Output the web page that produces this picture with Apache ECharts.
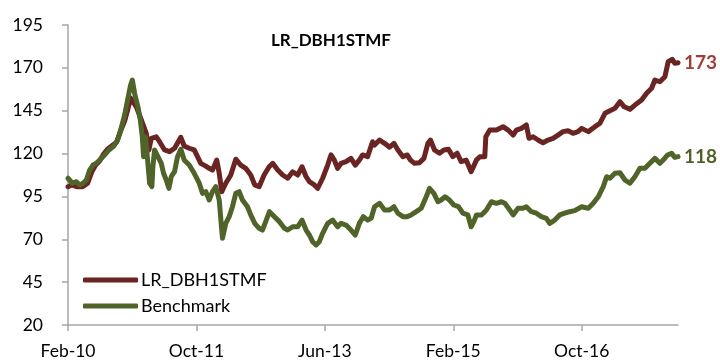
<!DOCTYPE html>
<html>
<head>
<meta charset="utf-8">
<script src="https://cdn.jsdelivr.net/npm/echarts@6/dist/echarts.min.js"></script>
<style>
  html, body { margin: 0; padding: 0; background: #fff; }
  #chart { width: 720px; height: 360px; }
</style>
</head>
<body>
<div id="chart"></div>
<script>
// Months elapsed since Feb 2010 (x) and index level (y) for each series
const fundMonths = [0,0.58,1.35,2.29,3.06,3.69,4.31,4.93,5.55,6.17,
  6.8,7.57,8.2,8.82,9.28,9.75,10.06,10.64,11.42,12.19,
  12.6,12.97,13.75,14.26,15.04,15.82,16.6,17.06,17.57,18.1,
  18.88,19.66,20.17,20.68,21.46,21.99,22.5,23.17,23.55,23.95,
  24.57,25.35,26.13,26.9,27.68,28.46,29.08,29.77,30.54,31.32,
  31.88,32.66,33.44,34.21,34.99,35.77,36.45,37.08,37.59,38.37,
  38.88,39.66,40.44,40.96,41.48,41.99,42.52,43.3,44.07,44.74,
  45.37,45.88,46.66,47.43,47.74,48.52,49.3,50.08,50.76,51.38,
  52.16,52.83,53.34,53.97,54.74,55.43,56.05,56.45,57.08,57.85,
  58.54,59.25,59.94,60.61,61.23,62.01,62.78,63.61,64.14,64.91,
  65.07,65.69,66.72,67.76,68.54,69.32,69.83,70.61,71.38,71.8,
  72.43,73.2,73.98,74.76,75.54,76.31,77.09,77.87,78.65,79.42,
  80,81.03,82.07,82.85,83.63,84.4,85.18,85.96,86.63,87.51,
  88.29,89.33,90.11,90.89,91.4,92.18,92.96,93.47,94.09,94.51,
  95];
const fundValues = [100.7,101.7,100.7,100.7,102.7,109.2,113.3,115.7,119.7,122.7,
  124.4,126.7,133.2,139,145.4,152.4,153,147.3,139.6,131.8,
  122.1,128.9,129.8,126.9,122.1,121.1,123.1,126.2,129.5,124.4,
  123.1,122.1,118.2,114.3,112.7,111.4,110.4,116.2,108.5,97.8,
  102.7,107.5,116.7,113.3,111.4,107.5,101.7,100.7,107.5,112.3,
  114.3,110.4,107.5,105.6,109.4,107.5,112.3,106.5,103.6,101.7,
  99.7,105.6,113.3,119.2,116.2,111.4,114.3,115.3,117.2,113.3,
  116.2,119.2,118.2,126.9,125,127.9,126,123.7,126,122.1,
  118.2,119.2,116.2,114.3,114.7,117.2,126,127.9,122.1,120.2,
  122.1,122.5,118.2,120.2,115.3,116.2,109.4,116.2,118.2,118.2,
  129.8,133.7,133.7,135.7,133.7,130.8,133.7,134.7,136.7,128.9,
  129.8,127.9,126.3,127.9,128.9,130.8,132.8,133.3,131.8,132.8,
  134.7,132.8,135.7,137.7,143.5,145,146.4,150.3,147.3,145.8,
  148.3,151.2,155.2,158.1,162.9,161.9,164.8,173.6,175,172.7,
  173];

const benchMonths = [0,0.26,0.68,1.31,1.82,2.33,2.86,3.37,3.89,4.42,
  4.93,5.71,6.38,7.15,7.73,8.2,8.82,9.28,9.75,10.02,
  10.37,10.89,11.26,11.57,11.77,12.08,12.44,12.71,13.06,13.22,
  13.48,14,14.53,14.88,15.3,15.71,16.08,16.59,17.06,17.57,
  18.1,18.88,19.66,20.44,20.95,21.46,21.99,22.5,23.02,23.55,
  23.9,24.06,24.57,25.1,25.61,26.13,26.66,27.17,27.95,28.46,
  29.08,29.77,30.28,30.79,31.37,32.15,32.92,33.7,34.21,34.99,
  35.77,36.45,37.08,37.59,38.1,38.63,39.14,39.66,40.44,41.21,
  41.99,42.52,43.3,44.07,44.74,45.37,45.99,46.66,47.23,47.74,
  48.52,49.3,50.08,50.76,51.38,52.16,52.83,53.45,54.23,55.01,
  55.79,56.3,56.98,57.61,58.12,58.74,59.41,60.09,60.81,61.49,
  62.27,62.78,63.3,63.61,64.39,65.16,65.94,66.72,67.5,68.03,
  68.8,69.32,70.09,70.87,71.38,72.16,72.94,73.72,74.49,75.02,
  75.8,76.58,77.36,78.13,78.91,80,81.03,81.8,82.58,83.36,
  83.89,84.4,85.18,85.96,86.74,87.51,88.29,89.07,89.85,90.62,
  91.4,92.18,92.69,93.38,94,94.51,95];
const benchValues = [105.6,106.5,102.7,103.6,101.7,102.7,104.6,110.4,113.3,114.3,
  116.2,119.2,122.1,124.4,127.9,133.7,142.5,151.2,160,162.9,
  155.2,147.3,139.6,129.8,118.2,129.8,114.3,102.7,100.7,112.3,
  122.1,118.2,114.3,108.5,104.6,99.7,106.5,109.4,118.2,122.5,
  116.2,113.3,108.5,102.7,96.8,97.8,92.9,97.8,100.7,92.9,
  77.3,70.6,79.3,83.2,89,96.8,97.8,92.9,89,84.2,
  79.3,76.4,75.4,80.3,86.1,83.2,80.3,76.4,75.4,77.3,
  77.3,81.2,75.4,72.5,68.6,66.7,68.6,73.5,79.3,81.2,
  77.3,79.3,78.3,75.4,72.5,79.3,83.2,81.2,82.4,89,
  91,87.1,87.1,89,85.2,83.2,83.2,84.2,86.1,88.1,
  94.8,99.7,96.8,91.9,92.9,94.8,92.9,90,89,85.2,
  84.2,77.3,81.2,84.2,84.2,87.1,91.9,91,91.9,91,
  87.1,84.2,88.1,88.1,89,86.1,85.2,83.2,82.2,79.3,
  81.2,84.2,85.2,86.1,86.7,89,88.1,91,94.8,100.7,
  106.5,105.6,108.5,108.8,104.6,102.7,106.5,111.4,111.4,114.3,
  117.2,114.3,116.2,119.2,120.2,117.8,118.2];

// Axis ticks and their labels
const xTickMonths = [0, 20, 40, 60, 80];
const xTickLabels = ['Feb-10', 'Oct-11', 'Jun-13', 'Feb-15', 'Oct-16'];
const yTicks = [20, 45, 70, 95, 120, 145, 170, 195];

const seriesNames = ['LR_DBH1STMF', 'Benchmark'];
const chartTitle = 'LR_DBH1STMF';

const zip = (xs, ys) => xs.map((x, i) => [x, ys[i]]);

const FONT = 'Lato, "Open Sans", sans-serif';
const AXIS_GREY = '#A6A6A6';

const chart = echarts.init(document.getElementById('chart'), null, { renderer: 'canvas' });

chart.setOption({
  animation: false,
  backgroundColor: '#ffffff',
  textStyle: { fontFamily: FONT },
  title: {
    text: chartTitle,
    left: 266,
    top: 27,
    textStyle: { fontFamily: FONT, fontSize: 17, fontWeight: 'bold', color: '#000' }
  },
  legend: {
    orient: 'vertical',
    left: 78,
    top: 266,
    itemGap: 8,
    itemWidth: 55,
    itemHeight: 5,
    icon: 'roundRect',
    data: seriesNames,
    textStyle: { fontFamily: FONT, fontSize: 18, color: '#000', padding: [0, 0, 0, -2] }
  },
  grid: { left: 68, right: 42, top: 25, bottom: 35, containLabel: false },
  xAxis: {
    type: 'value',
    min: 0,
    max: 95,
    splitLine: { show: false },
    axisLine: { show: true, lineStyle: { color: AXIS_GREY, width: 1.5 } },
    axisTick: { show: true, customValues: xTickMonths, length: 6, lineStyle: { color: AXIS_GREY, width: 1.5 } },
    axisLabel: {
      customValues: xTickMonths,
      margin: 17,
      fontFamily: FONT,
      fontSize: 17.5,
      color: '#000',
      formatter: v => xTickLabels[xTickMonths.indexOf(v)] || ''
    }
  },
  yAxis: {
    type: 'value',
    min: 20,
    max: 195,
    splitLine: { show: false },
    axisLine: { show: true, lineStyle: { color: AXIS_GREY, width: 1.5 } },
    axisTick: { show: true, customValues: yTicks, length: 6, lineStyle: { color: AXIS_GREY, width: 1.5 } },
    axisLabel: {
      customValues: yTicks,
      margin: 25,
      fontFamily: FONT,
      fontSize: 17.5,
      color: '#000'
    }
  },
  series: [
    {
      name: seriesNames[0],
      type: 'line',
      data: zip(fundMonths, fundValues),
      showSymbol: false,
      color: '#6A2422',
      lineStyle: { width: 5, color: '#6A2422', join: 'round', cap: 'round' },
      endLabel: {
        show: true,
        distance: 6,
        fontFamily: FONT,
        fontSize: 19,
        fontWeight: 'bold',
        color: '#A33C38',
        formatter: p => String(Math.round(p.value[1]))
      },
      z: 2
    },
    {
      name: seriesNames[1],
      type: 'line',
      data: zip(benchMonths, benchValues),
      showSymbol: false,
      color: '#50642A',
      lineStyle: { width: 5, color: '#50642A', join: 'round', cap: 'round' },
      endLabel: {
        show: true,
        distance: 6,
        fontFamily: FONT,
        fontSize: 19,
        fontWeight: 'bold',
        color: '#4F6228',
        formatter: p => String(Math.round(p.value[1]))
      },
      z: 3
    }
  ]
});
</script>
</body>
</html>
